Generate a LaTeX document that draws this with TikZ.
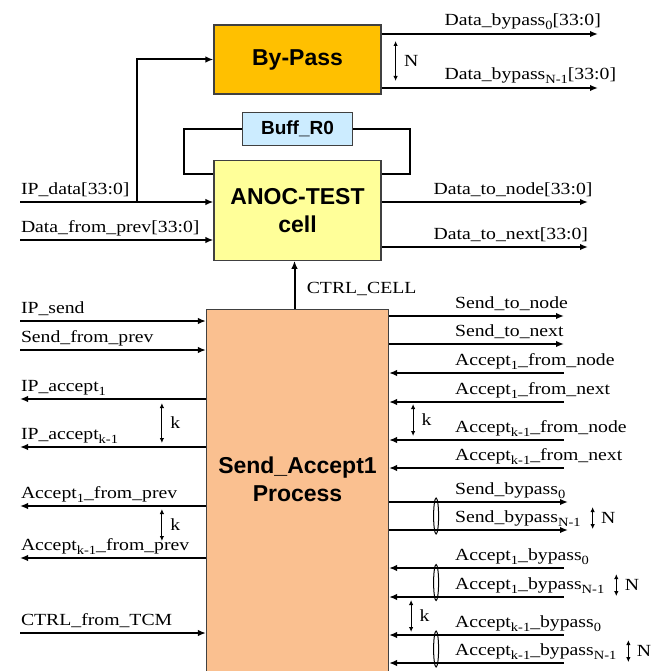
\documentclass[tikz,border=0pt]{standalone}
\usepackage{fontspec}
\setmainfont{Liberation Serif}[FakeStretch=1.16]
\newfontfamily\boxfont{Liberation Sans}
\usepackage{tikz}
\usetikzlibrary{positioning,arrows.meta,calc}
\usepackage{xcolor}
\definecolor{bypassor}{RGB}{255,192,0}
\definecolor{buffblue}{RGB}{204,236,255}
\definecolor{cellyel}{RGB}{255,255,153}
\definecolor{procpeach}{RGB}{250,192,144}
\newcommand{\sigsub}[1]{\raisebox{-4pt}{\fontsize{12.5}{13}\selectfont #1}}

\begin{document}
\begin{tikzpicture}[x=1pt, y=-1pt, >={Latex[length=8pt,width=6.5pt]}, every node/.style={font=\fontsize{17}{20}\selectfont}]
\tikzstyle{comp}=[rectangle, draw=black!75, line width=1.2pt, align=center, font=\boxfont\bfseries\fontsize{23}{28}\selectfont]
\tikzstyle{wire}=[line width=2pt]
\tikzstyle{dim}=[<->, >={Latex[length=5pt,width=4.5pt]}, line width=1.1pt]
\tikzstyle{llbl}=[at start, anchor=base west, inner sep=0pt, yshift=8pt]
\tikzset{rlbl/.style={at start, anchor=base west, inner sep=0pt, xshift=#1, yshift=8pt}, rlbl/.default=65pt}
\tikzstyle{dimlbl}=[midway, anchor=west, inner sep=0pt, xshift=8pt]

\useasboundingbox (0,0) rectangle (652,671);

% Blocks
\node[comp, fill=bypassor, minimum width=167pt, minimum height=69pt] (bypass) at (297.5,59.5) {By-Pass};
\node[comp, fill=cellyel, minimum width=167pt, minimum height=100pt, below=65pt of bypass] (cell) {ANOC-TEST\\cell};
\node[comp, fill=buffblue, minimum width=110pt, minimum height=33pt, below=17pt of bypass, font=\boxfont\bfseries\fontsize{19}{22}\selectfont] (buff) {Buff\_R0};
\node[comp, fill=procpeach, minimum width=182pt, minimum height=372pt, below=48pt of cell] (proc) {};
\node[font=\boxfont\bfseries\fontsize{23}{28}\selectfont, align=center] (proctxt) at ($(proc.north)+(0,170)$) {Send\_Accept1\\Process};

% Free ends, left side
\coordinate (ipdata) at (20,202);
\coordinate (dprev) at (20,240);
\coordinate (tap) at (137,202);
\coordinate (ipsend) at (20,321);
\coordinate (sprev) at (20,350);
\coordinate (ipacc1) at (20,399);
\coordinate (ipacck) at (20,447);
\coordinate (acc1prev) at (20,506);
\coordinate (acckprev) at (20,558);
\coordinate (ctrltcm) at (20,633);

% Free ends, right side
\coordinate (dbp0) at (598,34);
\coordinate (dbpN) at (598,88);
\coordinate (dtonode) at (588,202);
\coordinate (dtonext) at (588,247);
\coordinate (stonode) at (564,316);
\coordinate (stonext) at (564,344);
\coordinate (a1node) at (564,373);
\coordinate (a1next) at (564,402);
\coordinate (aknode) at (564,440);
\coordinate (aknext) at (564,468);
\coordinate (sbp0) at (568,502);
\coordinate (sbpN) at (568,530);
\coordinate (a1bp0) at (564,568);
\coordinate (a1bpN) at (564,597);
\coordinate (akbp0) at (564,635);
\coordinate (akbpN) at (564,663);

% Data path
\draw[wire,->] (ipdata) -- (ipdata -| cell.west) node[llbl] {IP\_data[33:0]};
\draw[wire,->] (tap) |- (bypass.west);
\draw[wire,->] (dprev) -- (dprev -| cell.west) node[llbl] {Data\_from\_prev[33:0]};
\draw[wire,->] (dbp0 -| bypass.east) -- (dbp0) node[rlbl=62pt] {Data\_bypass\sigsub{0}[33:0]};
\draw[wire,->] (dbpN -| bypass.east) -- (dbpN) node[rlbl=62pt] {Data\_bypass\sigsub{N-1}[33:0]};
\draw[dim] ($(dbp0 -| bypass.east)+(14,7)$) -- ($(dbpN -| bypass.east)+(14,-7)$) node[dimlbl] {N};
\draw[wire,->] (dtonode -| cell.east) -- (dtonode) node[rlbl=51pt] {Data\_to\_node[33:0]};
\draw[wire,->] (dtonext -| cell.east) -- (dtonext) node[rlbl=51pt] {Data\_to\_next[33:0]};

% Buffer loop and control
\draw[wire] (buff.west) -| ($(cell.north west)+(-29,14)$) -- ($(cell.north west)+(0,14)$);
\draw[wire] (buff.east) -| ($(cell.north east)+(28,14)$) -- ($(cell.north east)+(0,14)$);
\draw[wire,->] ($(proc.north)+(-3,0)$) -- ($(cell.south)+(-3,0)$) node[midway, anchor=west, xshift=8pt, yshift=-4pt] {CTRL\_CELL};

% Handshake, left side
\draw[wire,->] (ipsend) -- (ipsend -| proc.west) node[llbl] {IP\_send};
\draw[wire,->] (sprev) -- (sprev -| proc.west) node[llbl] {Send\_from\_prev};
\draw[wire,<-] (ipacc1) -- (ipacc1 -| proc.west) node[llbl] {IP\_accept\sigsub{1}};
\draw[wire,<-] (ipacck) -- (ipacck -| proc.west) node[llbl] {IP\_accept\sigsub{k-1}};
\draw[dim] ($(ipacc1 -| proc.west)+(-44,4)$) -- ($(ipacck -| proc.west)+(-44,-4)$) node[dimlbl] {k};
\draw[wire,<-] (acc1prev) -- (acc1prev -| proc.west) node[llbl] {Accept\sigsub{1}\_from\_prev};
\draw[wire,<-] (acckprev) -- (acckprev -| proc.west) node[llbl] {Accept\sigsub{k-1}\_from\_prev};
\draw[dim] ($(acc1prev -| proc.west)+(-44,3)$) -- ($(acckprev -| proc.west)+(-44,-17)$) node[dimlbl] {k};
\draw[wire,->] (ctrltcm) -- (ctrltcm -| proc.west) node[llbl] {CTRL\_from\_TCM};

% Handshake, right side
\draw[wire,->] (stonode -| proc.east) -- (stonode) node[rlbl] {Send\_to\_node};
\draw[wire,->] (stonext -| proc.east) -- (stonext) node[rlbl] {Send\_to\_next};
\draw[wire,<-] (a1node -| proc.east) -- (a1node) node[rlbl] {Accept\sigsub{1}\_from\_node};
\draw[wire,<-] (a1next -| proc.east) -- (a1next) node[rlbl] {Accept\sigsub{1}\_from\_next};
\draw[wire,<-] (aknode -| proc.east) -- (aknode) node[rlbl] {Accept\sigsub{k-1}\_from\_node};
\draw[wire,<-] (aknext -| proc.east) -- (aknext) node[rlbl] {Accept\sigsub{k-1}\_from\_next};
\draw[dim] ($(a1next -| proc.east)+(24,2)$) -- ($(aknode -| proc.east)+(24,-4)$) node[dimlbl] {k};

% Bypass handshake buses
\draw[wire,->] (sbp0 -| proc.east) -- (sbp0) node[rlbl] {Send\_bypass\sigsub{0}};
\draw[wire,->] (sbpN -| proc.east) -- (sbpN) node[rlbl] (lsbN) {Send\_bypass\sigsub{N-1}};
\draw[line width=1pt] ($(sbp0 -| proc.east)!.5!(sbpN -| proc.east)+(47,0)$) ellipse [x radius=2.5, y radius=18];
\draw[dim] ($(lsbN.east)+(11,-11)$) -- ($(lsbN.east)+(11,11)$) node[dimlbl] {N};
\draw[wire,<-] (a1bp0 -| proc.east) -- (a1bp0) node[rlbl] {Accept\sigsub{1}\_bypass\sigsub{0}};
\draw[wire,<-] (a1bpN -| proc.east) -- (a1bpN) node[rlbl] (la1N) {Accept\sigsub{1}\_bypass\sigsub{N-1}};
\draw[line width=1pt] ($(a1bp0 -| proc.east)!.5!(a1bpN -| proc.east)+(47,0)$) ellipse [x radius=2.5, y radius=18];
\draw[dim] ($(la1N.east)+(11,-11)$) -- ($(la1N.east)+(11,11)$) node[dimlbl] {N};
\draw[dim] ($(a1bpN -| proc.east)+(22,3)$) -- ($(akbp0 -| proc.east)+(22,-3)$) node[dimlbl] {k};
\draw[wire,<-] (akbp0 -| proc.east) -- (akbp0) node[rlbl] {Accept\sigsub{k-1}\_bypass\sigsub{0}};
\draw[wire,<-] (akbpN -| proc.east) -- (akbpN) node[rlbl] (lakN) {Accept\sigsub{k-1}\_bypass\sigsub{N-1}};
\draw[line width=1pt] ($(akbp0 -| proc.east)!.5!(akbpN -| proc.east)+(47,0)$) ellipse [x radius=2.5, y radius=18];
\draw[dim] ($(lakN.east)+(11,-11)$) -- ($(lakN.east)+(11,11)$) node[dimlbl] {N};
\end{tikzpicture}
\end{document}
